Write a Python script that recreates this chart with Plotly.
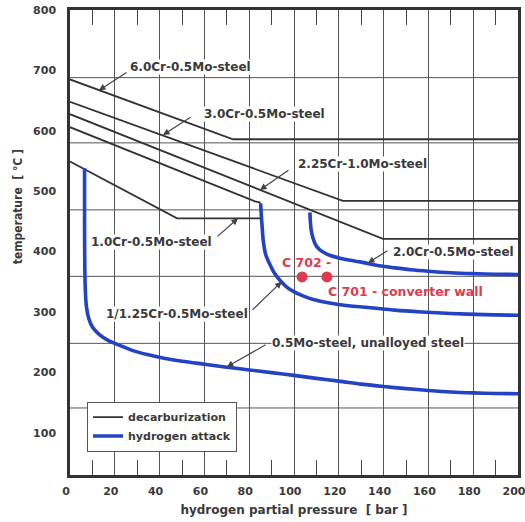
import plotly.graph_objects as go

# ---------------- data (pressure in bar, temperature in °C) ----------------
# decarburization limit lines
CR60_P = [0, 72.8, 200]
CR60_T = [685, 586, 586]
CR30_P = [0, 121.8, 200]
CR30_T = [648, 484, 484]
CR225_P = [0, 139.7, 200]
CR225_T = [627.5, 421, 421]
CR125_P = [0, 82.6, 85.1]
CR125_T = [606, 483, 481]
CR10_P = [0, 47.8, 85.6]
CR10_T = [549, 455, 455]

# hydrogen attack limit curves
MO05_P = [6.5, 6.5, 6.6, 6.8, 7.3, 8.3, 10, 13, 17, 22, 28, 35, 42, 50, 60, 70, 80, 90,
          100, 110, 120, 130, 140, 150, 160, 170, 180, 190, 200]
MO05_T = [538, 450, 380, 340, 310, 290, 275, 263, 253, 245, 236, 229, 223.5, 218.5, 213.5,
          208.5, 204, 199.5, 195, 190, 185.5, 180.5, 176.5, 173, 170, 167.5, 166, 165, 164.5]
CR125H_P = [85.1, 85.4, 85.8, 86.3, 87.3, 89.3, 91.3, 93.8, 96.5, 99.7, 104, 108.6, 114,
            120.5, 128, 135.4, 145, 157, 170, 185, 200]
CR125H_T = [480, 460, 440, 417, 396, 378, 364, 352, 342, 334, 326.5, 320.5, 316, 312, 309,
            306.5, 303, 300, 297.5, 295.5, 294.5]
CR20H_P = [107.1, 107.3, 107.7, 108.5, 109.8, 111.5, 113.5, 116.5, 120.5, 125, 130, 138,
           145, 152, 160, 170, 180, 190, 200]
CR20H_T = [465, 450, 435, 422, 410, 403, 398, 393, 389, 385.5, 382.5, 376.5, 373, 370,
           367.5, 365, 363.5, 362.5, 362]

# operating points
OP_P = [103.6, 114.7]
OP_T = [358, 358]

# axes
X_TICKS = [0, 20, 40, 60, 80, 100, 120, 140, 160, 180, 200]
Y_TICKS = [100, 200, 300, 400, 500, 600, 700, 800]
GRID_Y = [688, 580, 469, 359, 248, 141]

DECARB = [(CR60_P, CR60_T), (CR30_P, CR30_T), (CR225_P, CR225_T),
          (CR125_P, CR125_T), (CR10_P, CR10_T)]
HATTACK = [(MO05_P, MO05_T), (CR125H_P, CR125H_T), (CR20H_P, CR20H_T)]

# labels: text, centre (x, y), arrow tail (ax, ay), arrow head (hx, hy)
LABELS = [
    ("6.0Cr-0.5Mo-steel", 54, 705, 25.9, 698, 12.9, 667),
    ("3.0Cr-0.5Mo-steel", 87, 627.5, 54.5, 624, 41.5, 593),
    ("2.25Cr-1.0Mo-steel", 130.8, 545, 98.2, 536.5, 84.8, 502),
    ("1.0Cr-0.5Mo-steel", 36.6, 416.5, 65.2, 423, 75, 455),
    ("1/1.25Cr-0.5Mo-steel", 47.8, 296, 80.8, 301, 94.5, 350),
    ("2.0Cr-0.5Mo-steel", 171, 400, 142.4, 403, 133, 381),
    ("0.5Mo-steel, unalloyed steel", 133, 248, 88, 247, 70, 209),
]

FONT = "DejaVu Sans, Verdana, sans-serif"
NARROW = "Liberation Sans Narrow, DejaVu Sans Condensed, Arial Narrow, sans-serif"
TXT = "#3a3a3a"
BLUE = "#2342c4"
RED = "#dc3c4e"

fig = go.Figure()

for i, (p, t) in enumerate(DECARB):
    fig.add_trace(go.Scatter(x=p, y=t, mode="lines", name="decarburization",
                             legendgroup="d", showlegend=(i == 0),
                             line=dict(color="#333333", width=1.8)))
for i, (p, t) in enumerate(HATTACK):
    fig.add_trace(go.Scatter(x=p, y=t, mode="lines", name="hydrogen attack",
                             legendgroup="h", showlegend=(i == 0),
                             line=dict(color=BLUE, width=3.6, shape="spline", smoothing=0.8)))

fig.add_trace(go.Scatter(x=OP_P, y=OP_T, mode="markers", showlegend=False,
                         marker=dict(color=RED, size=11, line=dict(width=0))))

for v in GRID_Y:
    fig.add_hline(y=v, layer="below", line=dict(color="#555555", width=1))

for text, x, y, ax, ay, hx, hy in LABELS:
    fig.add_annotation(x=x, y=y, text=text, showarrow=False, bgcolor="white",
                       borderpad=0,
                       font=dict(family=FONT, size=12, color=TXT, weight="bold"))
    fig.add_annotation(x=hx, y=hy, ax=ax, ay=ay, axref="x", ayref="y", text="",
                       showarrow=True, arrowhead=2, arrowsize=1.1, arrowwidth=1.2,
                       arrowcolor="#444444", standoff=0, startstandoff=0)

fig.add_annotation(x=93.75, y=382, text="C 702 -", showarrow=False, xanchor="left",
                   font=dict(family=FONT, size=12.5, color=RED, weight="bold"))
fig.add_annotation(x=114.3, y=334, text="C 701 - converter wall", showarrow=False,
                   xanchor="left",
                   font=dict(family=FONT, size=12.5, color=RED, weight="bold"))

# y-axis title (placed left of the tick labels, as in the original)
fig.add_annotation(xref="paper", yref="paper", x=-0.116, y=0.576,
                   xanchor="center", yanchor="middle",
                   text="temperature\u00a0\u00a0[ °C ]", textangle=-90, showarrow=False,
                   font=dict(family=NARROW, size=12, color=TXT, weight="bold"))

fig.update_layout(
    width=525, height=522,
    margin=dict(l=70, r=7, t=10, b=47),
    paper_bgcolor="white", plot_bgcolor="white",
    font=dict(family=FONT, size=12, color=TXT),
    hovermode=False,
    legend=dict(x=0.038, y=0.158, xanchor="left", yanchor="top",
                bgcolor="white", bordercolor="#555555", borderwidth=1,
                font=dict(family=FONT, size=11, color=TXT, weight="bold"),
                tracegroupgap=0, itemwidth=30),
    xaxis=dict(range=[0, 200], tickvals=X_TICKS, showgrid=True, automargin=False,
               gridcolor="#555555", gridwidth=1, zeroline=False,
               showline=True, linecolor="#333333", linewidth=2.5, mirror="allticks",
               ticks="", ticklabelstandoff=4, ticklabeloverflow="allow", ticklabelshift=-4,
               tickfont=dict(family=FONT, size=11, color=TXT, weight="bold"),
               minor=dict(tick0=10, dtick=20, ticks="inside", ticklen=15,
                          tickcolor="#444444", tickwidth=1.2, showgrid=False),
               title=dict(text="hydrogen partial pressure\u00a0\u00a0[ bar ]", standoff=9,
                          font=dict(family=FONT, size=12, color=TXT, weight="bold"))),
    yaxis=dict(range=[30, 800], tickvals=Y_TICKS, showgrid=False, zeroline=False,
               automargin=False,
               showline=True, linecolor="#333333", linewidth=2.5, mirror=True,
               ticks="", ticklabelstandoff=9, ticklabeloverflow="allow",
               tickfont=dict(family=FONT, size=11, color=TXT, weight="bold")),
)

# remove the browser's default 8px page margin so the figure fills the window
fig.write_html("out.html", config={"displayModeBar": False},
               post_script="document.body.style.margin='0px';document.body.style.overflow='hidden';")
